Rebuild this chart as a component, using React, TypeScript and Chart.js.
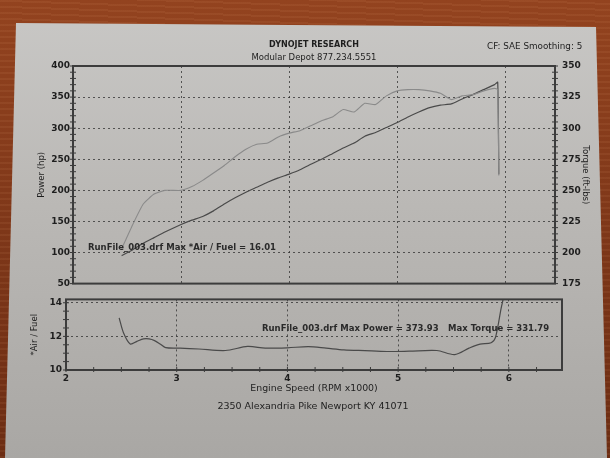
import React, { useEffect, useRef } from 'react';
import { Chart, registerables } from 'chart.js';

Chart.register(...registerables);

// ---------- data (read from the dyno sheet) ----------
const rpm = [2.45, 2.55, 2.65, 2.75, 2.85, 3.0, 3.1, 3.2, 3.3, 3.4, 3.5, 3.6, 3.7, 3.8, 3.9, 4.0, 4.1, 4.2, 4.3, 4.4, 4.5, 4.6, 4.7, 4.8, 4.9, 5.0, 5.1, 5.2, 5.3, 5.4, 5.5, 5.6, 5.7, 5.8, 5.9, 5.93, 5.94];
const powerHp = [95, 104, 115, 124, 133, 145, 152, 158, 167, 178, 188, 197, 205, 213, 220, 226, 233, 242, 250, 259, 268, 276, 287, 293, 301, 309, 318, 326, 333, 337, 339, 347, 354, 362, 370, 374, 226];
const torqueFtLb = [203, 222, 239, 247, 250, 250, 253, 258, 264, 270, 277, 283, 287, 288, 293, 296, 298, 302, 306, 309, 315, 313, 320, 319, 326, 330, 331, 331, 330, 328, 323, 326, 327, 330, 332, 331, 262];

const afrRpm = [2.48, 2.52, 2.58, 2.64, 2.70, 2.75, 2.80, 2.85, 2.90, 3.03, 3.20, 3.44, 3.64, 3.80, 4.00, 4.19, 4.35, 4.51, 4.70, 4.90, 5.10, 5.35, 5.51, 5.64, 5.74, 5.84, 5.88, 5.93, 5.96, 5.98];
const afrValues = [13.1, 12.2, 11.55, 11.7, 11.85, 11.85, 11.75, 11.55, 11.33, 11.3, 11.25, 11.16, 11.4, 11.3, 11.32, 11.39, 11.3, 11.2, 11.15, 11.1, 11.12, 11.16, 10.92, 11.3, 11.54, 11.62, 11.96, 13.67, 14.6, 16.01];

const rpmTicks = [2, 3, 4, 5, 6];
const powerTicks = [50, 100, 150, 200, 250, 300, 350, 400];
const torqueTicks = [175, 200, 225, 250, 275, 300, 325, 350];
const afrTicks = [10, 12, 14];

const FONT = "'DejaVu Sans', Verdana, sans-serif";
const INK = '#1e1e1e';
const GRID = 'rgba(45,45,45,0.75)';

const framePlugin = {
  id: 'frame',
  afterDraw(chart: any, _args: any, opts: any) {
    const { ctx, chartArea: a } = chart;
    ctx.save();
    ctx.lineWidth = 1;
    ctx.strokeStyle = '#3a3a3a';
    (opts.minor || []).forEach((m: any) => {
      const s = chart.scales[m.scale];
      for (let v = s.min; v <= s.max + 1e-9; v += m.step) {
        const p = s.getPixelForValue(v);
        ctx.beginPath();
        if (m.side === 'left') { ctx.moveTo(a.left - 3, p); ctx.lineTo(a.left + 3, p); }
        else if (m.side === 'right') { ctx.moveTo(a.right - 3, p); ctx.lineTo(a.right + 3, p); }
        else { ctx.moveTo(p, a.bottom - 3); ctx.lineTo(p, a.bottom + 2); }
        ctx.stroke();
      }
    });
    ctx.lineWidth = 2;
    ctx.strokeStyle = '#3c3c3c';
    ctx.strokeRect(a.left, a.top, a.right - a.left, a.bottom - a.top);
    ctx.restore();
  },
};

function fixedTicks(values: number[]) {
  return (scale: any) => { scale.ticks = values.map((v) => ({ value: v })); };
}

function Txt(props: { x: number; y: number; size: number; bold?: boolean; center?: boolean; color?: string; children: string }) {
  return (
    <div
      style={{
        position: 'absolute',
        left: props.x,
        top: props.y - 5,
        lineHeight: '10px',
        fontFamily: FONT,
        fontSize: props.size,
        fontWeight: props.bold ? 'bold' : 'normal',
        color: props.color || INK,
        whiteSpace: 'nowrap',
        transform: props.center ? 'translateX(-50%)' : undefined,
        zIndex: 3,
      }}
    >
      {props.children}
    </div>
  );
}

export default function App() {
  const topRef = useRef<HTMLCanvasElement | null>(null);
  const botRef = useRef<HTMLCanvasElement | null>(null);

  useEffect(() => {
    const tickFont = { family: FONT, size: 9, weight: 'bold' as const };
    const titleFont = { family: FONT, size: 8.5 };

    const top = new Chart(topRef.current as HTMLCanvasElement, {
      type: 'line',
      data: {
        datasets: [
          {
            label: 'Torque (ft-lbs)',
            yAxisID: 'y2',
            data: rpm.map((r, i) => ({ x: r, y: torqueFtLb[i] })),
            borderColor: '#8a8a8a',
            borderWidth: 1.1,
            pointRadius: 0,
            tension: 0.15,
          },
          {
            label: 'Power (hp)',
            yAxisID: 'y',
            data: rpm.map((r, i) => ({ x: r, y: powerHp[i] })),
            borderColor: '#4a4a4a',
            borderWidth: 1.2,
            pointRadius: 0,
            tension: 0.15,
          },
        ],
      },
      options: {
        animation: false,
        responsive: false,
        events: [],
        layout: { padding: { top: 26, left: 0, right: 0, bottom: 0 } },
        plugins: {
          legend: { display: false },
          tooltip: { enabled: false },
          frame: {
            minor: [
              { scale: 'y', step: 10, side: 'left' },
              { scale: 'y2', step: 5, side: 'right' },
            ],
          },
        } as any,
        scales: {
          x: {
            type: 'linear',
            min: 2,
            max: 6.46,
            afterBuildTicks: fixedTicks(rpmTicks),
            afterFit: (s: any) => { s.height = 8; },
            ticks: { display: false },
            grid: { color: GRID, lineWidth: 1, drawTicks: false },
            border: { display: false, dash: [2, 3] },
          },
          y: {
            type: 'linear',
            position: 'left',
            min: 50,
            max: 400,
            afterBuildTicks: fixedTicks(powerTicks),
            afterFit: (s: any) => { s.width = 73; },
            ticks: { color: INK, font: tickFont, padding: 3 },
            title: { display: true, text: 'Power (hp)', color: INK, font: titleFont, padding: { top: 37, bottom: 0 } },
            grid: { color: GRID, lineWidth: 1, drawTicks: false },
            border: { display: false, dash: [2, 3] },
          },
          y2: {
            type: 'linear',
            position: 'right',
            min: 175,
            max: 350,
            afterBuildTicks: fixedTicks(torqueTicks),
            afterFit: (s: any) => { s.width = 55; },
            ticks: { color: INK, font: tickFont, padding: 7 },
            title: { display: true, text: 'Torque (ft-lbs)', color: INK, font: titleFont, padding: { top: 20, bottom: 0 } },
            grid: { drawOnChartArea: false, drawTicks: false },
            border: { display: false },
          },
        },
      },
      plugins: [framePlugin],
    });

    const bot = new Chart(botRef.current as HTMLCanvasElement, {
      type: 'line',
      data: {
        datasets: [
          {
            label: '*Air / Fuel',
            data: afrRpm.map((r, i) => ({ x: r, y: afrValues[i] })),
            borderColor: '#4a4a4a',
            borderWidth: 1.2,
            pointRadius: 0,
            tension: 0.3,
          },
        ],
      },
      options: {
        animation: false,
        responsive: false,
        events: [],
        layout: { padding: { top: 7, left: 0, right: 48, bottom: 0 } },
        plugins: {
          legend: { display: false },
          tooltip: { enabled: false },
          frame: {
            minor: [
              { scale: 'y', step: 0.5, side: 'left' },
              { scale: 'x', step: 0.25, side: 'bottom' },
            ],
          },
        } as any,
        scales: {
          x: {
            type: 'linear',
            min: 2,
            max: 6.48,
            afterBuildTicks: fixedTicks(rpmTicks),
            afterFit: (s: any) => { s.height = 40; },
            ticks: { color: INK, font: tickFont, padding: 3 },
            title: { display: true, text: 'Engine Speed (RPM x1000)', color: INK, font: { family: FONT, size: 9.4 }, padding: { top: 0, bottom: 16 } },
            grid: { color: GRID, lineWidth: 1, drawTicks: false },
            border: { display: false, dash: [2, 3] },
          },
          y: {
            type: 'linear',
            position: 'left',
            min: 10,
            max: 14.2,
            afterBuildTicks: fixedTicks(afrTicks),
            afterFit: (s: any) => { s.width = 66; },
            ticks: { color: INK, font: tickFont, padding: 4 },
            title: { display: true, text: '*Air / Fuel', color: INK, font: titleFont, padding: { top: 30, bottom: 0 } },
            grid: { color: GRID, lineWidth: 1, drawTicks: false },
            border: { display: false, dash: [2, 3] },
          },
        },
      },
      plugins: [framePlugin],
    });

    return () => {
      top.destroy();
      bot.destroy();
    };
  }, []);

  return (
    <div
      style={{
        position: 'fixed',
        left: 0,
        top: 0,
        width: 610,
        height: 458,
        overflow: 'hidden',
        background:
          'repeating-linear-gradient(2deg, rgba(255,190,140,0.07) 0px, rgba(255,190,140,0.07) 2px, rgba(0,0,0,0) 2px, rgba(0,0,0,0) 6px), linear-gradient(180deg, #93431f 0%, #7e3719 50%, #6c2d13 100%)',
      }}
    >
      <div
        style={{
          position: 'absolute',
          left: 0,
          top: 0,
          width: 610,
          height: 458,
          clipPath: 'polygon(16px 23px, 596px 27px, 607px 458px, 5px 458px)',
          background: 'linear-gradient(180deg, #c9c8c6 0%, #bab8b5 45%, #a9a7a4 100%)',
        }}
      />
      <canvas ref={topRef} width={610} height={256} style={{ position: 'absolute', left: 0, top: 40, zIndex: 2 }} />
      <canvas ref={botRef} width={610} height={120} style={{ position: 'absolute', left: 0, top: 290, zIndex: 2 }} />

      <Txt x={314} y={45} size={8} bold center>DYNOJET RESEARCH</Txt>
      <Txt x={314} y={57} size={8.5} center>Modular Depot 877.234.5551</Txt>
      <Txt x={487} y={46} size={8.8}>CF: SAE Smoothing: 5</Txt>

      <Txt x={88} y={247} size={8.5} bold color="#2a2a2a">RunFile_003.drf Max *Air / Fuel = 16.01</Txt>
      <Txt x={262} y={328} size={8.5} bold color="#2a2a2a">RunFile_003.drf Max Power = 373.93</Txt>
      <Txt x={448} y={328} size={8.5} bold color="#2a2a2a">Max Torque = 331.79</Txt>

      <Txt x={313} y={406} size={9.5} center>2350 Alexandria Pike Newport KY 41071</Txt>
    </div>
  );
}
